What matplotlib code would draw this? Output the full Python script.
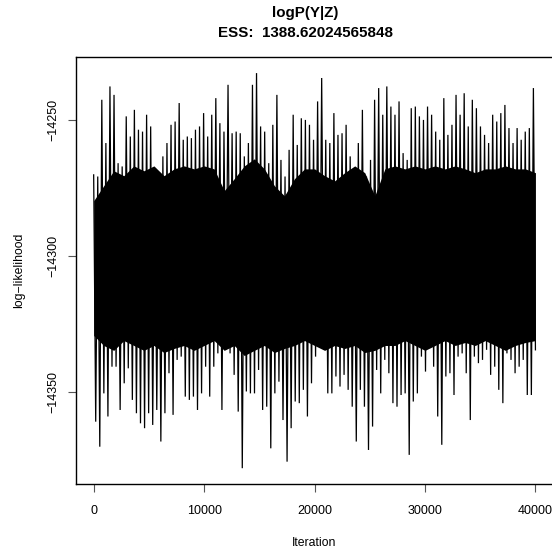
import numpy as np
import matplotlib
matplotlib.use("Agg")
import matplotlib.pyplot as plt

plt.rcParams['font.family'] = ['Liberation Sans', 'DejaVu Sans']

title_main = "logP(Y|Z)"
title_ess = "ESS:  1388.62024565848"
x_label = "Iteration"
y_label = "log\u2212likelihood"
n_iter = 40000
x_ticks = [0, 10000, 20000, 30000, 40000]
y_ticks = [-14350, -14300, -14250]

# Per-window maxima of the chain (left to right)
trace_high = [
    -14270.2, -14270.8, -14242.6, -14258.5, -14237.7, -14240.8, -14265.9, -14267.1,
    -14248.7, -14256.1, -14246.3, -14253.6, -14254.3, -14248.1, -14252.4, -14269.6,
    -14270.2, -14263.4, -14258.5, -14251.8, -14250.6, -14243.8, -14257.3, -14256.1,
    -14256.7, -14253.6,
    -14252.4, -14247.5, -14256.1, -14248.1, -14242.0, -14251.2, -14254.3, -14237.1,
    -14254.9, -14254.3, -14254.9, -14263.4, -14258.5, -14237.1, -14232.8, -14252.4,
    -14254.3, -14265.9, -14251.8, -14240.8, -14264.7, -14270.8, -14261.0, -14248.1,
    -14259.2, -14249.4, -14250.0,
    -14251.8, -14257.3, -14243.2, -14234.6, -14257.3, -14258.5, -14247.5, -14255.5,
    -14254.9, -14251.8, -14263.4, -14274.5, -14258.5, -14246.3, -14270.8, -14264.7,
    -14242.6, -14238.3, -14248.1, -14237.7, -14245.1, -14248.1, -14243.2, -14262.2,
    -14264.7, -14245.7, -14245.1,
    -14248.7, -14250.0, -14245.1, -14248.1, -14254.3, -14257.3, -14242.0, -14255.5,
    -14251.8, -14240.8, -14248.1, -14240.2, -14252.4, -14242.6, -14245.7, -14252.4,
    -14255.5, -14258.5, -14248.1, -14250.6, -14247.5, -14244.5, -14253.0, -14258.5,
    -14253.0, -14257.3, -14254.3, -14253.0, -14238.3,
]

# Per-window minima of the chain (left to right)
trace_low = [
    -14360.9, -14370.1, -14350.5, -14359.0, -14340.7, -14340.7, -14356.6, -14346.8,
    -14341.3, -14352.9, -14357.8, -14361.5, -14363.3, -14357.8, -14362.1, -14356.6,
    -14368.2, -14357.8, -14343.1, -14358.4, -14338.2, -14337.0, -14351.7, -14352.9,
    -14351.7, -14356.6,
    -14350.5, -14340.7, -14351.7, -14340.7, -14335.8, -14356.6, -14330.9, -14335.8,
    -14343.7, -14357.2, -14378.0, -14349.8, -14350.5, -14350.5, -14341.9, -14356.6,
    -14355.4, -14370.7, -14350.5, -14346.2, -14360.3, -14375.6, -14363.3, -14353.5,
    -14354.1, -14349.2, -14359.0,
    -14346.8, -14337.0, -14332.7, -14334.5, -14350.5, -14350.5, -14344.3, -14348.0,
    -14343.7, -14349.2, -14355.4, -14368.2, -14349.2, -14355.4, -14371.3, -14362.7,
    -14341.9, -14350.5, -14338.2, -14343.1, -14354.1, -14355.4, -14351.1, -14350.5,
    -14373.1, -14353.5, -14350.5,
    -14337.0, -14342.5, -14332.1, -14340.7, -14359.0, -14369.4, -14344.3, -14343.1,
    -14351.1, -14337.0, -14335.8, -14343.1, -14360.3, -14337.0, -14339.4, -14338.2,
    -14334.5, -14343.7, -14340.7, -14349.2, -14354.1, -14335.8, -14338.2, -14343.1,
    -14340.7, -14338.2, -14351.1, -14351.1, -14334.5,
]

# Edges of the dense (solid black) core of the trace, left to right
core_upper = [
    -14279.7, -14274.2, -14268.7, -14270.5, -14266.9, -14268.7, -14266.9, -14270.5,
    -14268.0, -14266.9, -14268.0, -14266.9, -14268.0, -14276.0, -14271.6, -14266.9,
    -14264.3, -14268.0, -14274.2, -14277.9, -14271.6, -14268.0, -14268.0, -14270.5,
    -14272.4, -14269.4, -14266.9, -14269.4, -14277.9, -14268.0, -14266.9, -14268.0,
    -14266.9, -14268.0, -14266.9, -14268.0, -14266.9, -14268.0, -14269.4, -14268.0,
    -14268.0, -14266.9, -14268.0, -14268.0, -14269.4,
]
core_lower = [
    -14329.2, -14332.9, -14334.7, -14331.1, -14332.9, -14334.7, -14332.9, -14335.5,
    -14334.0, -14332.9, -14334.7, -14332.9, -14331.1, -14334.7, -14332.9, -14336.6,
    -14334.7, -14332.9, -14335.5, -14334.0, -14332.9, -14331.1, -14332.9, -14334.7,
    -14332.9, -14334.0, -14332.9, -14335.5, -14334.7, -14332.9, -14332.9, -14331.1,
    -14332.9, -14334.7, -14332.9, -14331.1, -14332.9, -14331.8, -14332.9, -14331.1,
    -14332.9, -14334.7, -14332.9, -14331.8, -14331.1,
]

# Interleave highs and lows into one trace
hi = np.array(trace_high)
lo = np.array(trace_low)
vals = np.empty(2 * len(hi))
vals[0::2] = hi
vals[1::2] = lo
iters = np.linspace(0, n_iter, len(vals))
core_x = np.linspace(0, n_iter, len(core_upper))

W, H = 552, 552
fig = plt.figure(figsize=(W / 100, H / 100), dpi=100)
ax = fig.add_axes([76 / W, 1 - 484 / H, 1 - 76 / W + 0.002, (484 - 57.3) / H])

ax.fill_between(core_x, core_lower, core_upper, color="black", lw=0)
ax.plot(iters, vals, color="black", lw=0.9, solid_joinstyle="miter")
ax.margins(x=0.04, y=0.04)

ax.set_xticks(x_ticks)
ax.set_yticks(y_ticks)
ax.set_xticklabels([str(v) for v in x_ticks])
ax.set_yticklabels([str(v).replace("-", "\u2212") for v in y_ticks], rotation=90, va="center")
ax.tick_params(axis="both", direction="out", length=5.8, width=0.8, labelsize=9.0, color="#555555")
ax.tick_params(axis="x", pad=9)
ax.tick_params(axis="y", pad=6.2)
for s in ax.spines.values():
    s.set_linewidth(1.0)
    s.set_color("black")

ax.set_xlabel(x_label, fontsize=8.8, labelpad=14.5)
ax.set_ylabel(y_label, fontsize=8.8, labelpad=16)

cx = 305 / W
fig.text(cx, 1 - 12.5 / H, title_main, ha="center", va="center", fontsize=10.9, fontweight="bold")
fig.text(cx, 1 - 33 / H, title_ess, ha="center", va="center", fontsize=10.9, fontweight="bold")

fig.savefig("out.png", dpi=100)
